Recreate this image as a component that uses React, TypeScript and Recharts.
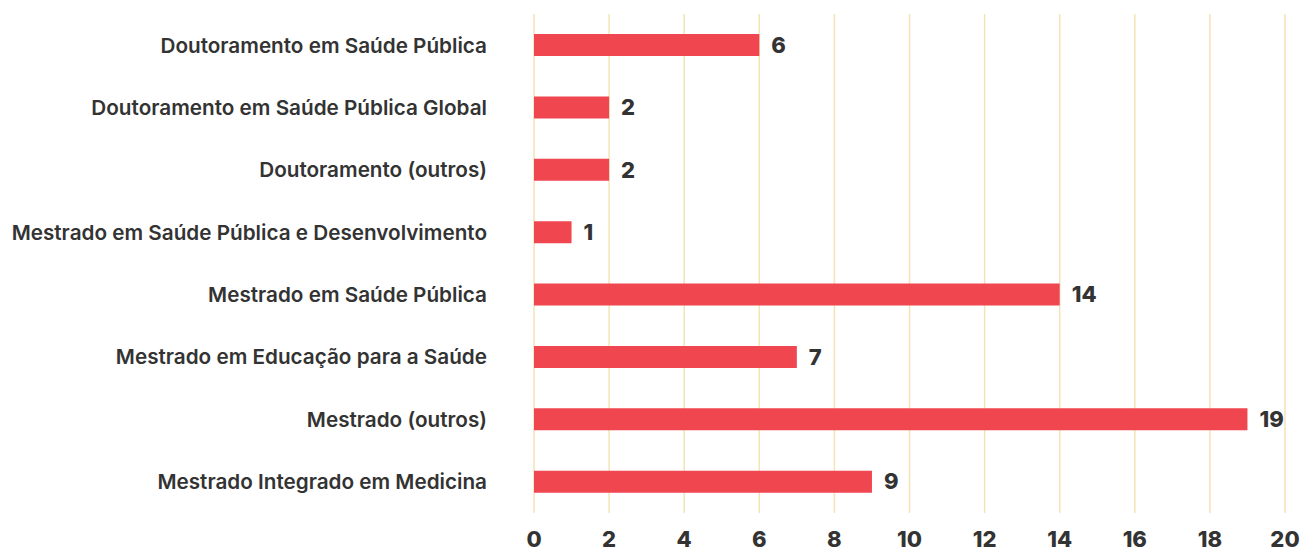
import { BarChart, Bar, XAxis, YAxis, CartesianGrid, LabelList } from 'recharts'

const categories = [
  'Doutoramento em Saúde Pública',
  'Doutoramento em Saúde Pública Global',
  'Doutoramento (outros)',
  'Mestrado em Saúde Pública e Desenvolvimento',
  'Mestrado em Saúde Pública',
  'Mestrado em Educação para a Saúde',
  'Mestrado (outros)',
  'Mestrado Integrado em Medicina',
]
const values = [6, 2, 2, 1, 14, 7, 19, 9]
const xTicks = [0, 2, 4, 6, 8, 10, 12, 14, 16, 18, 20]

const data = categories.map((name, i) => ({ name, value: values[i] }))

const TEXT = '#333333'
const FONT = 'Inter, "Noto Sans", sans-serif'

export default function App() {
  return (
    <div style={{ position: 'absolute', left: 0, top: 0, fontFamily: FONT }}>
      <BarChart
        width={1306}
        height={548}
        data={data}
        layout="vertical"
        margin={{ top: 14, right: 21, bottom: 0, left: 0 }}
      >
        <CartesianGrid horizontal={false} stroke="#F3E3B6" strokeWidth={1.5} />
        <XAxis
          type="number"
          domain={[0, 20]}
          ticks={xTicks}
          axisLine={false}
          tickLine={false}
          tickSize={0}
          tickMargin={18}
          height={35}
          interval={0}
          tick={{ fill: TEXT, fontSize: 22, fontWeight: 800, fontFamily: FONT }}
        />
        <YAxis
          type="category"
          dataKey="name"
          width={534}
          axisLine={false}
          tickLine={false}
          tickSize={0}
          tickMargin={47}
          interval={0}
          tick={{ fill: TEXT, fontSize: 20.7, fontWeight: 600, fontFamily: FONT }}
        />
        <Bar dataKey="value" fill="#EF4650" barSize={22} isAnimationActive={false}>
          <LabelList
            dataKey="value"
            position="right"
            offset={12}
            style={{ fill: TEXT, fontSize: 22, fontWeight: 800, fontFamily: FONT }}
          />
        </Bar>
      </BarChart>
    </div>
  )
}
